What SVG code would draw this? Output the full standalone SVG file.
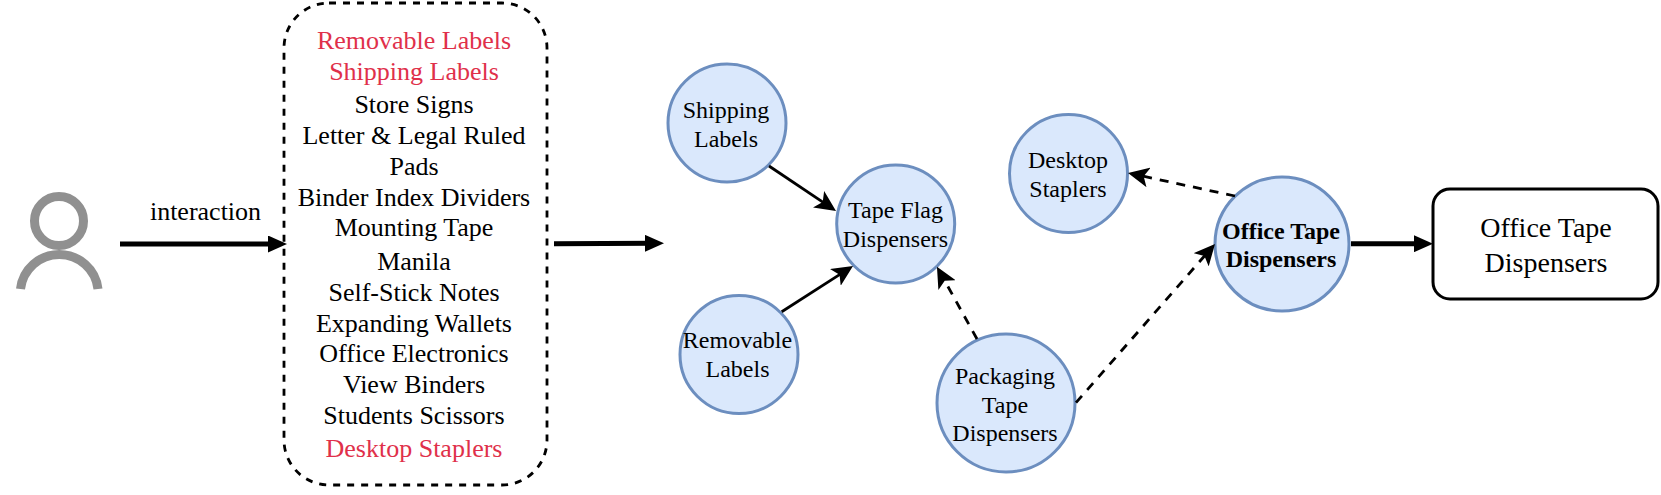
<svg xmlns="http://www.w3.org/2000/svg" width="1661" height="495" viewBox="0 0 1661 495">
<style>
text{font-family:"Liberation Serif","Times New Roman",serif;fill:#000;text-anchor:middle;font-size:24px}
.l{font-size:26px}
.red{fill:#e0304a}
.c{fill:#dae8fc;stroke:#6c8ebf;stroke-width:3}
.a{fill:none;stroke:#000;stroke-width:2.800;marker-end:url(#h)}
.d{stroke-dasharray:9 8}
.t{fill:none;stroke:#000;stroke-width:5;marker-end:url(#b)}
</style>
<defs>
<marker id="h" markerUnits="userSpaceOnUse" markerWidth="21" markerHeight="20" refX="11" refY="10" orient="auto"><path d="M0 0L21 10L0 20L5 10Z" fill="#000"/></marker>
<marker id="b" markerUnits="userSpaceOnUse" markerWidth="19" markerHeight="17" refX="9" refY="8.500" orient="auto"><path d="M0 0L19 8.500L0 17Z" fill="#000"/></marker>
</defs>
<g id="user" fill="none" stroke="#909090" stroke-width="9">
<circle cx="59" cy="221" r="24.500"/>
<path d="M20.500 289A39 39 0 0 1 98 289"/>
</g>
<text x="205.500" y="220" class="l">interaction</text>
<g id="list">
<rect x="284" y="3" width="263" height="482" rx="45" fill="none" stroke="#000" stroke-width="2.800" stroke-dasharray="7 7"/>
<text x="414" y="49" class="l red">Removable Labels</text>
<text x="414" y="80" class="l red">Shipping Labels</text>
<text x="414" y="113" class="l">Store Signs</text>
<text x="414" y="144" class="l">Letter &amp; Legal Ruled</text>
<text x="414" y="175" class="l">Pads</text>
<text x="414" y="206" class="l">Binder Index Dividers</text>
<text x="414" y="236" class="l">Mounting Tape</text>
<text x="414" y="270" class="l">Manila</text>
<text x="414" y="300.500" class="l">Self-Stick Notes</text>
<text x="414" y="331.500" class="l">Expanding Wallets</text>
<text x="414" y="362" class="l">Office Electronics</text>
<text x="414" y="393" class="l">View Binders</text>
<text x="414" y="424" class="l">Students Scissors</text>
<text x="414" y="457" class="l red">Desktop Staplers</text>
</g>
<g id="shipping"><circle class="c" cx="727" cy="123" r="59"/><text x="726" y="118">Shipping</text><text x="726" y="147">Labels</text></g>
<g id="removable"><circle class="c" cx="739" cy="354.500" r="59"/><text x="737.500" y="348">Removable</text><text x="737.500" y="377">Labels</text></g>
<g id="tapeflag"><circle class="c" cx="895.700" cy="224" r="59"/><text x="895.500" y="218">Tape Flag</text><text x="895.500" y="246.700">Dispensers</text></g>
<g id="packaging"><circle class="c" cx="1006" cy="403" r="69"/><text x="1005" y="384">Packaging</text><text x="1005" y="412.700">Tape</text><text x="1005" y="441.300">Dispensers</text></g>
<g id="desktop"><circle class="c" cx="1068.500" cy="173.500" r="59"/><text x="1068" y="168">Desktop</text><text x="1068" y="196.700">Staplers</text></g>
<g id="office"><circle class="c" cx="1282" cy="244" r="67"/><text x="1281" y="239" font-weight="bold">Office Tape</text><text x="1281" y="267" font-weight="bold">Dispensers</text></g>
<g id="result"><rect x="1433" y="189" width="225" height="110" rx="17" fill="#fff" stroke="#000" stroke-width="3"/><text x="1546" y="236.700" style="font-size:28px">Office Tape</text><text x="1546" y="272" style="font-size:28px">Dispensers</text></g>
<g id="connectors">
<path class="t" d="M120 244H277"/>
<path class="t" d="M554 243.700L654 243.300"/>
<path class="a" d="M769 166L827.700 205.400"/>
<path class="a" d="M781.700 311.700L844.600 271.400"/>
<path class="a d" d="M977 339L941.800 275.500"/>
<path class="a d" d="M1076 402.700L1208.400 251.500"/>
<path class="a d" d="M1235 196L1137.800 175.100"/>
<path class="t" d="M1351 243.700H1423"/>
</g>
</svg>
